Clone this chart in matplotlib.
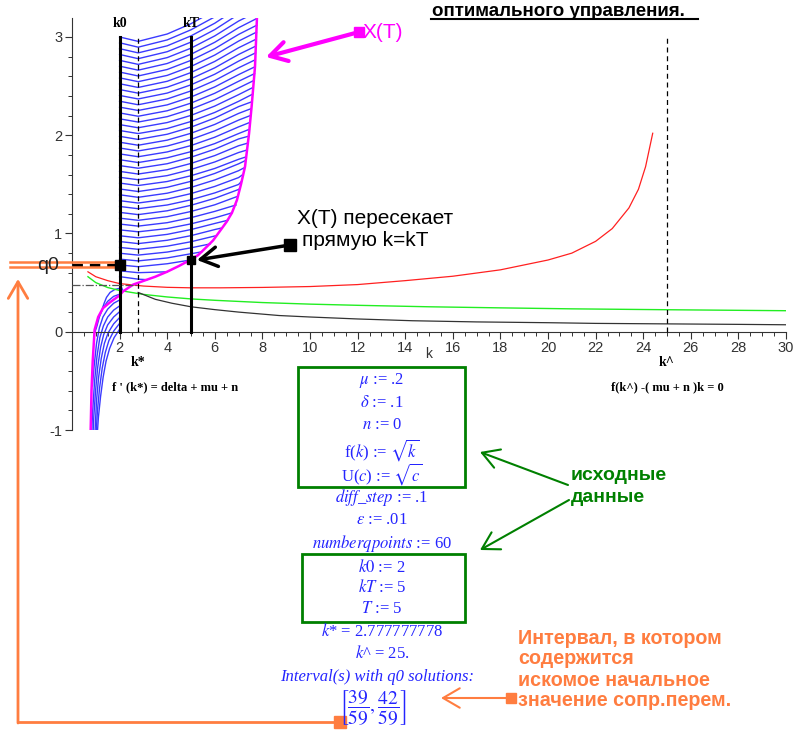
import numpy as np
import matplotlib
matplotlib.use("Agg")
from matplotlib import pyplot as plt
from matplotlib.patches import Rectangle

plt.rcParams['font.family'] = ['Liberation Sans', 'DejaVu Sans']
plt.rcParams['font.serif'] = ['Liberation Serif', 'DejaVu Serif']
plt.rcParams['mathtext.fontset'] = 'stix'
plt.rcParams['axes.unicode_minus'] = False

W, H = 793, 730
nan = np.nan

# values
k0 = 2.0
kT = 5.0
k_star = 2.777777778
k_hat = 25.0
q_star = 0.474
q0_pick = 0.68          # q0 marker on the k0 line
kT_hit = 0.73           # X(T) meets k = kT here
q0_interval = [39 / 59, 42 / 59]

# upper bundle of trajectories: q at k = 2, k*, 4, 5, 6, 7 and the end point on X(T)
traj_cols = [2.0, 2.78, 4.0, 5.0, 6.0, 7.0]
traj_q_k0 = [3.000, 2.941, 2.881, 2.822, 2.762, 2.703, 2.643, 2.584, 2.524, 2.465,
             2.405, 2.346, 2.286, 2.227, 2.167, 2.108, 2.048, 1.989, 1.929, 1.870,
             1.810, 1.751, 1.691, 1.632, 1.572, 1.513, 1.453, 1.394, 1.334, 1.275,
             1.215, 1.156, 1.096, 1.037, 0.977, 0.918, 0.858, 0.799, 0.739, 0.680,
             0.620, 0.561, 0.501]
traj_q_kstar = [2.955, 2.896, 2.838, 2.779, 2.721, 2.662, 2.603, 2.545, 2.486, 2.428,
                2.369, 2.310, 2.252, 2.193, 2.134, 2.076, 2.017, 1.957, 1.898, 1.840,
                1.781, 1.722, 1.664, 1.605, 1.547, 1.488, 1.427, 1.368, 1.310, 1.252,
                1.192, 1.134, 1.075, 1.017, 0.956, 0.897, 0.839, 0.780, 0.721, 0.662,
                0.601, 0.535, nan]
traj_q_4 = [3.030, 2.970, 2.910, 2.850, 2.790, 2.730, 2.669, 2.609, 2.549, 2.489,
            2.429, 2.369, 2.309, 2.249, 2.189, 2.129, 2.068, 2.010, 1.950, 1.890,
            1.830, 1.770, 1.710, 1.649, 1.589, 1.529, 1.470, 1.410, 1.350, 1.290,
            1.231, 1.171, 1.110, 1.050, 0.991, 0.931, 0.871, 0.811, 0.751, 0.692,
            nan, nan, nan]
traj_q_5 = [3.135, 3.073, 3.011, 2.948, 2.886, 2.824, 2.762, 2.700, 2.638, 2.575,
            2.513, 2.451, 2.389, 2.327, 2.265, 2.202, 2.140, 2.082, 2.020, 1.957,
            1.895, 1.833, 1.776, 1.713, 1.651, 1.588, 1.531, 1.469, 1.406, 1.343,
            1.287, 1.224, 1.161, 1.098, 1.040, 0.978, 0.916, 0.854, 0.794, nan,
            nan, nan, nan]
traj_q_6 = [3.270, 3.205, 3.140, 3.075, 3.011, 2.946, 2.881, 2.816, 2.751, 2.686,
            2.621, 2.557, 2.492, 2.427, 2.362, 2.297, 2.232, 2.175, 2.110, 2.045,
            1.980, 1.915, 1.858, 1.793, 1.728, 1.662, 1.611, 1.545, 1.479, 1.413,
            1.358, 1.292, 1.225, 1.159, 1.102, 1.040, nan, nan, nan, nan,
            nan, nan, nan]
traj_q_7 = [3.435, 3.367, 3.299, 3.231, 3.162, 3.094, 3.026, 2.958, 2.890, 2.822,
            2.754, 2.686, 2.617, 2.549, 2.481, 2.413, 2.345, 2.291, 2.222, 2.154,
            2.085, 2.017, 1.962, 1.893, 1.824, 1.755, 1.709, 1.639, 1.569, 1.499,
            1.448, nan, nan, nan, nan, nan, nan, nan, nan, nan,
            nan, nan, nan]
traj_k_end = [7.85, 7.84, 7.83, 7.82, 7.80, 7.77, 7.76, 7.75, 7.74, 7.73,
              7.71, 7.70, 7.69, 7.67, 7.64, 7.61, 7.58, 7.55, 7.52, 7.49,
              7.47, 7.45, 7.42, 7.39, 7.36, 7.32, 7.30, 7.26, 7.18, 7.12,
              7.06, 6.98, 6.89, 6.72, 6.55, 6.27, 6.06, 5.81, 5.45, 4.98,
              4.00, 3.15, 2.15]
traj_q_end = [3.540, 3.470, 3.400, 3.329, 3.259, 3.189, 3.119, 3.049, 2.978, 2.908,
              2.838, 2.768, 2.697, 2.627, 2.557, 2.487, 2.417, 2.340, 2.270, 2.200,
              2.130, 2.060, 1.990, 1.920, 1.850, 1.780, 1.744, 1.672, 1.600, 1.530,
              1.460, 1.380, 1.290, 1.210, 1.135, 1.055, 0.978, 0.894, 0.813, 0.730,
              0.610, 0.530, 0.410]

# lower trajectories (q0 below the saddle) running off to the left and down
low_k = [[2.0, 1.8, 1.6, 1.45, 1.35, 1.28],
         [2.0, 1.75, 1.5, 1.3, 1.15, 1.05, 0.97],
         [2.0, 1.75, 1.5, 1.3, 1.15, 1.03, 0.93, 0.86],
         [2.0, 1.75, 1.5, 1.32, 1.17, 1.05, 0.95, 0.87, 0.82],
         [2.0, 1.75, 1.5, 1.33, 1.2, 1.08, 0.99, 0.92, 0.88],
         [2.0, 1.75, 1.52, 1.36, 1.23, 1.12, 1.03, 0.96],
         [2.0, 1.76, 1.55, 1.4, 1.27, 1.16, 1.07, 1.01],
         [2.0, 1.77, 1.58, 1.43, 1.31, 1.2, 1.11, 1.06]]
low_q = [[0.442, 0.43, 0.40, 0.35, 0.29, 0.24],
         [0.382, 0.36, 0.31, 0.24, 0.15, 0.06, 0.0],
         [0.323, 0.29, 0.23, 0.15, 0.04, -0.12, -0.35, -0.55],
         [0.263, 0.22, 0.15, 0.06, -0.06, -0.25, -0.5, -0.8, -1.05],
         [0.204, 0.15, 0.07, -0.03, -0.16, -0.36, -0.6, -0.85, -1.05],
         [0.144, 0.08, -0.01, -0.12, -0.27, -0.46, -0.7, -1.05],
         [0.085, 0.01, -0.09, -0.21, -0.37, -0.57, -0.8, -1.05],
         [0.025, -0.06, -0.17, -0.3, -0.46, -0.66, -0.87, -1.05]]

# X(T): end points of the trajectories at t = T
xT_k = [7.80, 7.77, 7.69, 7.55, 7.44, 7.27, 7.10, 6.93, 6.72, 6.50, 6.20, 5.93,
        5.60, 5.30, 4.96, 4.50, 3.99, 3.50, 3.15, 2.57, 2.14, 2.00, 1.60, 1.30,
        1.10, 0.95, 0.87, 0.82, 0.78]
xT_q = [3.30, 3.19, 2.70, 2.30, 2.02, 1.68, 1.50, 1.34, 1.21, 1.12, 1.02, 0.93,
        0.85, 0.78, 0.73, 0.67, 0.61, 0.56, 0.53, 0.48, 0.41, 0.37, 0.30, 0.24,
        0.15, 0.02, -0.30, -0.60, -1.05]

# isoclines
red_k = [0.67, 1.0, 1.5, 2.0, 3.0, 4.0, 5.0, 6.25, 8.0, 10.0, 12.0, 14.0, 16.0,
         18.0, 20.0, 21.0, 22.0, 22.7, 23.4, 23.8, 24.1, 24.4]
red_q = [0.61, 0.56, 0.52, 0.49, 0.465, 0.452, 0.447, 0.447, 0.451, 0.46, 0.48,
         0.52, 0.565, 0.63, 0.73, 0.80, 0.92, 1.05, 1.26, 1.45, 1.68, 2.02]
green_k = [0.67, 1.0, 1.5, 2.0, 3.0, 4.0, 5.0, 6.0, 8.0, 10.0, 12.0, 15.0, 18.0,
           21.0, 25.0, 30.0]
green_q = [0.56, 0.50, 0.45, 0.42, 0.38, 0.354, 0.334, 0.32, 0.297, 0.281, 0.269,
           0.254, 0.243, 0.233, 0.224, 0.214]
black_k = [2.78, 3.5, 4.2, 5.0, 6.0, 7.0, 8.7, 10.0, 12.0, 14.3, 17.0, 20.0, 22.0,
           25.0, 28.0, 30.0]
black_q = [0.40, 0.33, 0.29, 0.254, 0.225, 0.20, 0.165, 0.15, 0.13, 0.112, 0.10,
           0.092, 0.085, 0.08, 0.075, 0.071]

x_ticks = [2, 4, 6, 8, 10, 12, 14, 16, 18, 20, 22, 24, 26, 28, 30]
y_ticks = [-1, 0, 1, 2, 3]

BLUE_TXT = '#2424ff'
ORANGE = '#ff7d40'
GREEN = '#008000'
MAGENTA = '#ff00ff'


def fp(x, y):
    # screenshot pixel (from top-left) -> figure fraction
    return (x / W, 1 - y / H)


fig = plt.figure(figsize=(W / 100, H / 100), dpi=100)
ax = fig.add_axes([72 / W, 1 - 430 / H, (786 - 72) / W, (430 - 18) / H])
ax.set_xlim(0, 30)
ax.set_ylim(-1.0, 3.193)

# trajectories
for i in range(len(traj_q_k0)):
    cols = [traj_q_k0[i], traj_q_kstar[i], traj_q_4[i], traj_q_5[i], traj_q_6[i], traj_q_7[i]]
    ks, qs = [], []
    for kc, qc in zip(traj_cols, cols):
        if not np.isnan(qc) and kc < traj_k_end[i]:
            ks.append(kc)
            qs.append(qc)
    ks.append(traj_k_end[i])
    qs.append(traj_q_end[i])
    ax.plot(ks, qs, color='#3a3aff', lw=1.0, zorder=2)
for ks, qs in zip(low_k, low_q):
    ax.plot(ks, qs, color='#3a3aff', lw=1.0, zorder=2)

ax.plot(xT_k, xT_q, color=MAGENTA, lw=1.8, zorder=3)
ax.plot(red_k, red_q, color='#ff2020', lw=0.9, zorder=2)
ax.plot(green_k, green_q, color='#22ee22', lw=1.0, zorder=2)
ax.plot(black_k, black_q, color='#333333', lw=0.9, zorder=2)

# reference lines
ax.plot([k0, k0], [0, 3], color='black', lw=2.2, zorder=4)
ax.plot([kT, kT], [0, 3], color='black', lw=2.2, zorder=4)
ax.plot([k_star, k_star], [0, 3], color='black', lw=0.9, ls=(0, (4, 3)), zorder=4)
ax.plot([k_hat, k_hat], [0, 3], color='black', lw=0.9, ls=(0, (4, 3)), zorder=4)
ax.plot([0, k_star], [q_star, q_star], color='#555555', lw=0.9, ls='-.', zorder=4)
ax.plot([0, k0], [q0_pick, q0_pick], color='black', lw=2.5, ls=(0, (3, 2)), zorder=5)
ax.plot([k0], [q0_pick], marker='s', ms=7, color='black', zorder=6)
ax.plot([kT], [kT_hit], marker='s', ms=6, color='black', zorder=6)

# axes in Maple style
for s in ['top', 'right']:
    ax.spines[s].set_visible(False)
ax.spines['bottom'].set_position(('data', 0))
for s in ['left', 'bottom']:
    ax.spines[s].set_color('#333333')
    ax.spines[s].set_linewidth(0.8)
ax.set_xticks(x_ticks)
ax.set_yticks(y_ticks)
ax.set_xticks(np.arange(0, 30.01, 0.5), minor=True)
ax.set_yticks(np.arange(-1, 3.1, 0.2), minor=True)
ax.tick_params(which='major', length=5, width=0.8, colors='#333333', labelsize=10.5, pad=2)
ax.tick_params(which='minor', length=3, width=0.7, colors='#333333')
ax.patch.set_alpha(0)

# plot labels
ser = dict(family='serif', weight='bold', fontsize=10, color='black')
ax.text(k0, 3.14, 'k0', ha='center', va='center', **ser)
ax.text(kT, 3.14, 'kT', ha='center', va='center', **ser)
ax.text(k_star, -0.31, 'k*', ha='center', va='center', **ser)
ax.text(k_hat, -0.31, 'k^', ha='center', va='center', **ser)
ax.text(1.68, -0.567, "f ' (k*) = delta + mu + n", ha='left', va='center',
        family='serif', weight='bold', fontsize=9)
ax.text(k_hat, -0.567, 'f(k^) -( mu + n )k = 0', ha='center', va='center',
        family='serif', weight='bold', fontsize=9)
ax.text(15, -0.225, 'k', ha='center', va='center', fontsize=10, color='#333333')
fig.text(*fp(48, 266), 'q0', ha='center', va='center', fontsize=14, color='#222222')

# title fragment
fig.text(*fp(558, 11), 'оптимального управления.', ha='center', va='center',
         fontsize=13.5, weight='bold')
fig.add_artist(plt.Line2D([431 / W, 698 / W], [1 - 19 / H, 1 - 19 / H], color='black', lw=1.5))

# q0 interval marks and orange arrow
for q in q0_interval:
    ax.plot([-2.6, 1.9], [q, q], color=ORANGE, lw=1.8, clip_on=False, zorder=5)
fig.add_artist(plt.Line2D([18 / W, 340 / W], [1 - 722 / H, 1 - 722 / H], color=ORANGE, lw=2))
fig.add_artist(plt.Line2D([340 / W], [1 - 722 / H], marker='s', ms=8, color=ORANGE))
ax.annotate('', xy=fp(18, 279), xycoords='figure fraction', xytext=fp(18, 723),
            textcoords='figure fraction', annotation_clip=False,
            arrowprops=dict(arrowstyle='->,head_length=0.6,head_width=0.35', lw=2,
                            color=ORANGE, mutation_scale=20, shrinkA=0, shrinkB=0))

# X(T) callout
ax.annotate('', xy=fp(266, 57), xycoords='figure fraction', xytext=fp(359, 32),
            textcoords='figure fraction', annotation_clip=False,
            arrowprops=dict(arrowstyle='->,head_length=0.6,head_width=0.35', lw=3,
                            color=MAGENTA, mutation_scale=20, shrinkA=0, shrinkB=0))
fig.add_artist(plt.Line2D([359 / W], [1 - 32 / H], marker='s', ms=7, color=MAGENTA))
fig.text(*fp(363, 32), 'X(T)', ha='left', va='center', fontsize=15, color=MAGENTA)

# crossing callout
ax.annotate('', xy=fp(197, 260), xycoords='figure fraction', xytext=fp(290, 245),
            textcoords='figure fraction', annotation_clip=False,
            arrowprops=dict(arrowstyle='->,head_length=0.6,head_width=0.35', lw=2.5,
                            color='black', mutation_scale=20, shrinkA=0, shrinkB=0))
fig.add_artist(plt.Line2D([290 / W], [1 - 245 / H], marker='s', ms=8, color='black'))
fig.text(*fp(297, 218), 'X(T) пересекает', ha='left', va='center', fontsize=15)
fig.text(*fp(302, 241), 'прямую k=kT', ha='left', va='center', fontsize=15)

# Maple input / output block
fig.add_artist(Rectangle(fp(298, 487), (465 - 298) / W, (487 - 367) / H, fill=False,
                         ec=GREEN, lw=2, transform=fig.transFigure))
fig.add_artist(Rectangle(fp(302, 622), (465 - 302) / W, (622 - 554) / H, fill=False,
                         ec=GREEN, lw=2, transform=fig.transFigure))
maple_lines = [
    (381, r'$\mu$ := .2'),
    (403, r'$\delta$ := .1'),
    (425, r'$n$ := 0'),
    (450, r'f($k$) := $\sqrt{k}$'),
    (474, r'U($c$) := $\sqrt{c}$'),
    (498, r'$diff\_step$ := .1'),
    (520, r'$\varepsilon$ := .01'),
    (543, r'$numberqpoints$ := 60'),
    (567, r'$k0$ := 2'),
    (588, r'$kT$ := 5'),
    (609, r'$T$ := 5'),
    (631, r'$k$* = 2.777777778'),
    (654, r'$k$^ = 25.'),
]
for y, s in maple_lines:
    fig.text(*fp(382, y), s, ha='center', va='center', fontsize=12,
             family='serif', color=BLUE_TXT)
fig.text(*fp(377, 677), 'Interval(s) with q0 solutions:', ha='center', va='center',
         fontsize=12, family='serif', style='italic', color=BLUE_TXT)
fig.text(*fp(373, 708), r'$\left[\dfrac{%d}{59}, \dfrac{%d}{59}\right]$'
         % (round(q0_interval[0] * 59), round(q0_interval[1] * 59)),
         ha='center', va='center', fontsize=14, color=BLUE_TXT)

# green callout
fig.text(*fp(571, 476), 'исходные', ha='left', va='center', fontsize=14,
         weight='bold', color=GREEN)
fig.text(*fp(571, 497), 'данные', ha='left', va='center', fontsize=14,
         weight='bold', color=GREEN)
for tail, tip in [((568, 485), (480, 452)), ((569, 500), (480, 550))]:
    ax.annotate('', xy=fp(*tip), xycoords='figure fraction', xytext=fp(*tail),
                textcoords='figure fraction', annotation_clip=False,
                arrowprops=dict(arrowstyle='->,head_length=0.6,head_width=0.35', lw=1.5,
                                color=GREEN, mutation_scale=20, shrinkA=0, shrinkB=0))

# orange callout
for y, s in [(639, 'Интервал, в котором'), (659, 'содержится'),
             (680, 'искомое начальное'), (700, 'значение сопр.перем.')]:
    fig.text(*fp(518, y), s, ha='left', va='center', fontsize=14.2, weight='bold',
             color=ORANGE)
ax.annotate('', xy=fp(441, 698), xycoords='figure fraction', xytext=fp(511, 698),
            textcoords='figure fraction', annotation_clip=False,
            arrowprops=dict(arrowstyle='->,head_length=0.6,head_width=0.35', lw=1.5,
                            color=ORANGE, mutation_scale=20, shrinkA=0, shrinkB=0))
fig.add_artist(plt.Line2D([511 / W], [1 - 698 / H], marker='s', ms=7, color=ORANGE))

fig.savefig('out.png', dpi=100)
